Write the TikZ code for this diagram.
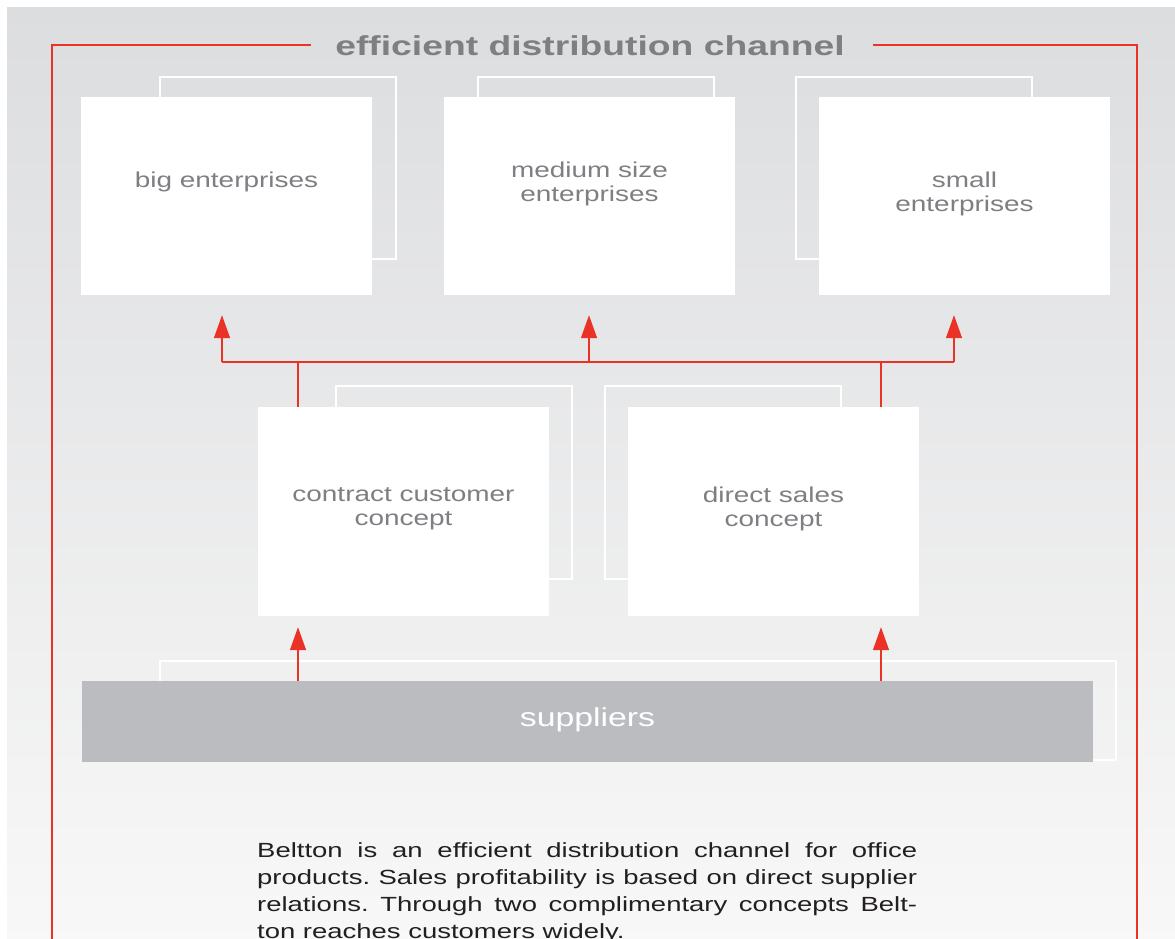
\documentclass[tikz,border=0pt]{standalone}
\usepackage{fontspec}
\setmainfont{Liberation Sans}[FakeStretch=1.3]
\newfontfamily\titlefont{Liberation Sans}[FakeStretch=1.36]
\newfontfamily\bodyfont{Liberation Sans}[FakeStretch=1.34]
\usetikzlibrary{arrows.meta}
\definecolor{bgtop}{RGB}{220,221,223}
\definecolor{bgbot}{RGB}{248,248,248}
\definecolor{belred}{RGB}{235,50,38}
\definecolor{labgrey}{RGB}{126,127,131}
\definecolor{supgrey}{RGB}{187,188,192}
\definecolor{bodytext}{RGB}{35,31,32}
\begin{document}
\begin{tikzpicture}[x=1pt,y=-1pt,
  redline/.style={draw=belred,line width=1.5pt},
  redarrow/.style={redline,-{Triangle[length=23pt,width=16pt]}},
  frameline/.style={draw=belred,line width=1.3pt},
  shadowline/.style={draw=white,line width=1.8pt},
  whitebox/.style={fill=white,draw=none,minimum width=291pt,inner sep=0pt},
  toprow/.style={whitebox,minimum height=198pt},
  midrow/.style={whitebox,minimum height=209pt},
  boxlabel/.style={text=labgrey,font=\fontsize{21.5}{24}\selectfont,align=center},
]
\useasboundingbox (0,0) rectangle (1175,938);
% background
\shade[top color=bgtop,bottom color=bgbot] (7,7) rectangle (1185,948);

% title and frame
\node[text=labgrey,font=\titlefont\bfseries\fontsize{27.4}{30}\selectfont,inner sep=0pt] (title) at (590,45.5) {efficient distribution channel};
\coordinate (frA) at (311,45);
\coordinate (frB) at (52,45);
\coordinate (frC) at (52,950);
\coordinate (frD) at (873,45);
\coordinate (frE) at (1137,45);
\coordinate (frF) at (1137,950);
\draw[frameline] (frA) -- (frB) -- (frC);
\draw[frameline] (frD) -- (frE) -- (frF);

% shadow outlines
\draw[shadowline] (160,77) rectangle (396,259);
\draw[shadowline] (478,77) rectangle (714,259);
\draw[shadowline] (796,77) rectangle (1032,259);
\draw[shadowline] (336,386) rectangle (572,579);
\draw[shadowline] (605,386) rectangle (841,579);
\draw[shadowline] (160,661) rectangle (1116,760);

% boxes
\node[toprow,label={[boxlabel,yshift=14pt]center:big enterprises}] (big) at (226.5,196) {};
\node[toprow,label={[boxlabel,yshift=12pt]center:medium size\\enterprises}] (medium) at (589.5,196) {};
\node[toprow,label={[boxlabel,yshift=2pt]center:small\\enterprises}] (small) at (964.5,196) {};
\node[midrow,label={[boxlabel,yshift=2.5pt]center:contract customer\\concept}] (contract) at (403.5,511.5) {};
\node[midrow,label={[boxlabel,yshift=3pt]center:direct sales\\concept}] (direct) at (773.5,511.5) {};
\node[fill=supgrey,draw=none,inner sep=0pt,minimum width=1011pt,minimum height=81pt,
  label={[text=white,font=\fontsize{26}{28}\selectfont,yshift=1.5pt]center:suppliers}] (suppliers) at (587.5,721.5) {};

% connectors
\coordinate (bL) at (222,362);
\coordinate (bR) at (954,362);
\coordinate (xC) at (298,0);
\coordinate (xM) at (589,0);
\coordinate (xD) at (881,0);
\coordinate (tipRow) at ([yshift=-20pt]big.south);
\coordinate (tipRow2) at ([yshift=-11pt]contract.south);
\draw[redline] (bL) -- (bR);
\draw[redline] (contract.north -| xC) -- (bL -| xC);
\draw[redline] (direct.north -| xD) -- (bR -| xD);
\draw[redarrow] (bL) -- (bL |- tipRow);
\draw[redarrow] (bL -| xM) -- (xM |- tipRow);
\draw[redarrow] (bR) -- (bR |- tipRow);
\draw[redarrow] (suppliers.north -| xC) -- (xC |- tipRow2);
\draw[redarrow] (suppliers.north -| xD) -- (xD |- tipRow2);

% body text
\node[anchor=north west,inner sep=0pt,text width=660pt,align=justify,text=bodytext,
  font=\bodyfont\frenchspacing\fontsize{20.5}{27}\selectfont] (body) at (257,842.3)
  {Beltton is an efficient distribution channel for office\linebreak
   products. Sales profitability is based on direct supplier\linebreak
   relations. Through two complimentary concepts Belt-\linebreak
   ton reaches customers widely.};
\end{tikzpicture}
\end{document}
